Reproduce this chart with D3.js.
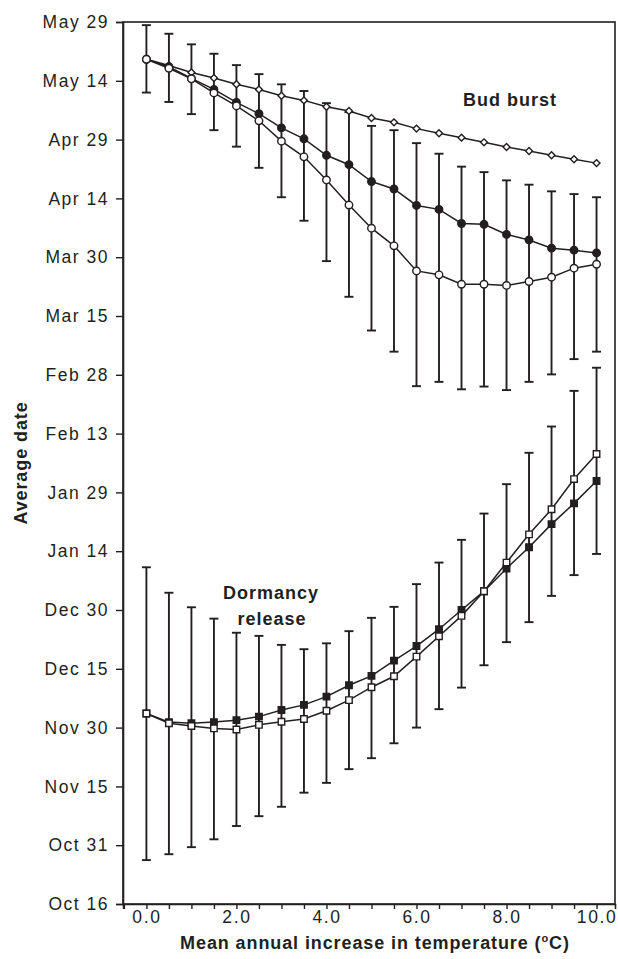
<!DOCTYPE html>
<html>
<head>
<meta charset="utf-8">
<script src="https://cdn.jsdelivr.net/npm/d3@7"></script>
<style>
  html, body { margin: 0; padding: 0; background: #fff; }
  svg { display: block; }
  text { font-family: "Liberation Sans", Arial, Helvetica, sans-serif; fill: #231f20; }
</style>
</head>
<body>
<svg id="chart" width="618" height="959"></svg>
<script>
// Mean annual increase in temperature (°C)
const temps = [0, 0.5, 1, 1.5, 2, 2.5, 3, 3.5, 4, 4.5, 5, 5.5, 6, 6.5, 7, 7.5, 8, 8.5, 9, 9.5, 10];

// Values are days after Oct 16
const budDiamond = [215.5, 213.9, 212.1, 210.7, 209.1, 207.8, 206.2, 205.0, 203.4, 202.3, 200.5,
                    199.4, 197.8, 196.6, 195.5, 194.3, 193.1, 192.1, 191.0, 190.0, 189.0];
const budFilled  = [215.5, 213.6, 210.6, 207.8, 204.5, 201.6, 198.0, 195.2, 191.0, 188.6, 184.3,
                    182.4, 178.2, 177.2, 173.6, 173.4, 170.8, 169.4, 167.3, 166.8, 166.1];
const budOpen    = [215.5, 213.2, 210.5, 206.9, 203.6, 199.8, 194.6, 190.6, 184.7, 178.3, 172.4,
                    167.9, 161.5, 160.5, 158.1, 158.1, 157.8, 158.8, 159.9, 162.2, 163.2];
const budErrHigh = [224.2, 222.0, 219.3, 216.9, 214.0, 211.7, 209.1, 207.4, 204.3, 202.0, 198.5,
                    197.4, 194.1, 191.4, 188.1, 186.7, 184.6, 183.5, 181.8, 181.1, 180.3];
const budErrLow  = [207.0, 204.6, 201.5, 197.4, 193.2, 187.8, 180.3, 174.3, 164.0, 154.9, 146.3,
                    140.9, 132.1, 133.2, 131.3, 132.0, 131.1, 133.2, 135.1, 139.0, 140.9];

const dormOpen    = [48.6, 46.1, 45.4, 44.8, 44.5, 45.7, 46.5, 47.2, 49.3, 52.0, 55.3,
                     58.1, 63.1, 68.3, 73.5, 79.8, 87.1, 94.3, 100.7, 108.4, 114.8];
const dormFilled  = [48.6, 46.4, 46.1, 46.4, 46.9, 47.8, 49.5, 50.8, 52.9, 55.8, 58.2,
                     62.1, 65.8, 70.1, 75.0, 79.8, 85.6, 91.0, 96.9, 102.2, 107.9];
const dormErrHigh = [85.9, 79.4, 75.7, 72.8, 69.2, 68.4, 66.1, 65.0, 66.5, 69.6, 73.0,
                     75.8, 81.6, 87.1, 92.9, 99.6, 107.1, 115.1, 121.8, 130.9, 136.8];
const dormErrLow  = [11.2, 12.7, 14.5, 16.5, 19.9, 22.4, 24.8, 28.4, 30.9, 34.4, 37.2,
                     41.0, 45.0, 49.7, 55.2, 60.9, 66.8, 71.9, 78.6, 83.9, 89.3];

const yTickValues = [0, 15, 30, 45, 60, 75, 90, 105, 120, 135, 150, 165, 180, 195, 210, 225];
const yTickLabels = ["Oct 16", "Oct 31", "Nov 15", "Nov 30", "Dec 15", "Dec 30", "Jan 14", "Jan 29",
                     "Feb 13", "Feb 28", "Mar 15", "Mar 30", "Apr 14", "Apr 29", "May 14", "May 29"];
const xTickValues = [-0.5, 0, 0.5, 1, 1.5, 2, 2.5, 3, 3.5, 4, 4.5, 5, 5.5, 6, 6.5, 7, 7.5, 8, 8.5, 9, 9.5, 10];
const xLabelled = [0, 2, 4, 6, 8, 10];

const svg = d3.select("#chart");
const mLeft = 123, mRight = 615, mTop = 22, mBottom = 904;

const x = d3.scaleLinear().domain([-0.52, 10.41]).range([mLeft, mRight]);
const y = d3.scaleLinear().domain([0, 225]).range([mBottom, mTop]);

// frame
svg.append("rect")
  .attr("x", mLeft).attr("y", mTop)
  .attr("width", mRight - mLeft).attr("height", mBottom - mTop)
  .attr("fill", "none").attr("stroke", "#231f20").attr("stroke-width", 1.6);

// y axis
const yAxis = d3.axisLeft(y)
  .tickValues(yTickValues)
  .tickSize(7).tickPadding(7)
  .tickFormat((d, i) => yTickLabels[i]);
const gy = svg.append("g").attr("transform", `translate(${mLeft},0)`).call(yAxis);
gy.select(".domain").attr("stroke", "#231f20").attr("stroke-width", 1.6);
gy.selectAll(".tick line").attr("stroke", "#231f20").attr("stroke-width", 1.4);
gy.selectAll(".tick text")
  .style("font-family", '"Liberation Sans", Arial, sans-serif')
  .style("font-size", "17.5px").style("letter-spacing", "1.5px").attr("fill", "#231f20");

// x axis
const xAxis = d3.axisBottom(x)
  .tickValues(xTickValues)
  .tickSize(5).tickPadding(2)
  .tickFormat(d => xLabelled.includes(d) ? d3.format(".1f")(d) : "");
const gx = svg.append("g").attr("transform", `translate(0,${mBottom})`).call(xAxis);
gx.select(".domain").attr("stroke", "#231f20").attr("stroke-width", 1.6);
gx.selectAll(".tick line").attr("stroke", "#231f20").attr("stroke-width", 1.4);
gx.selectAll(".tick text")
  .style("font-family", '"Liberation Sans", Arial, sans-serif')
  .style("font-size", "17.5px").style("letter-spacing", "1.6px").attr("fill", "#231f20");

// axis titles
const xTitle = svg.append("text")
  .attr("x", 375).attr("y", 949)
  .attr("text-anchor", "middle")
  .style("font-size", "18px").style("font-weight", "bold").style("letter-spacing", "0.9px");
xTitle.append("tspan").text("Mean annual increase in temperature (");
xTitle.append("tspan").attr("dy", -7).style("font-size", "11px").text("o");
xTitle.append("tspan").attr("dy", 7).text("C)");

svg.append("text")
  .attr("transform", `translate(27,${(mTop + mBottom) / 2}) rotate(-90)`)
  .attr("text-anchor", "middle")
  .style("font-size", "18px").style("font-weight", "bold").style("letter-spacing", "0.9px")
  .text("Average date");

// error bars
function errorBars(hi, lo) {
  const g = svg.append("g").attr("stroke", "#231f20").attr("stroke-width", 1.9).attr("fill", "none");
  const capW = 4.5;
  temps.forEach((t, i) => {
    const cx = x(t);
    g.append("line").attr("x1", cx).attr("x2", cx).attr("y1", y(hi[i])).attr("y2", y(lo[i]));
    g.append("line").attr("x1", cx - capW).attr("x2", cx + capW).attr("y1", y(hi[i])).attr("y2", y(hi[i]));
    g.append("line").attr("x1", cx - capW).attr("x2", cx + capW).attr("y1", y(lo[i])).attr("y2", y(lo[i]));
  });
}
errorBars(budErrHigh, budErrLow);
errorBars(dormErrHigh, dormErrLow);

// lines
const line = d3.line().x((d, i) => x(temps[i])).y(d => y(d));
[budDiamond, budFilled, budOpen, dormFilled, dormOpen].forEach(series => {
  svg.append("path").datum(series)
    .attr("d", line)
    .attr("fill", "none").attr("stroke", "#231f20").attr("stroke-width", 1.5);
});

// markers
function markers(series, type, fill) {
  let sym, size, rot = 0;
  if (type === "circle") { sym = d3.symbolCircle; size = 44; }
  else if (type === "square") { sym = d3.symbolSquare; size = 42; }
  else { sym = d3.symbolSquare; size = 24; rot = 45; }
  const gen = d3.symbol().type(sym).size(size);
  svg.append("g").selectAll("path").data(series).join("path")
    .attr("d", gen)
    .attr("transform", (d, i) => `translate(${x(temps[i])},${y(d)}) rotate(${rot})`)
    .attr("fill", fill).attr("stroke", "#231f20").attr("stroke-width", 1.4);
}
markers(budDiamond, "diamond", "#fff");
markers(budFilled, "circle", "#231f20");
markers(budOpen, "circle", "#fff");
markers(dormFilled, "square", "#231f20");
markers(dormOpen, "square", "#fff");

// annotations
svg.append("text").attr("x", 510).attr("y", 106).attr("text-anchor", "middle")
  .style("font-size", "18px").style("font-weight", "bold").style("letter-spacing", "1px")
  .text("Bud burst");
svg.append("text").attr("x", 271).attr("y", 599).attr("text-anchor", "middle")
  .style("font-size", "18px").style("font-weight", "bold").style("letter-spacing", "1px")
  .text("Dormancy");
svg.append("text").attr("x", 272).attr("y", 625).attr("text-anchor", "middle")
  .style("font-size", "18px").style("font-weight", "bold").style("letter-spacing", "1px")
  .text("release");
</script>
</body>
</html>
